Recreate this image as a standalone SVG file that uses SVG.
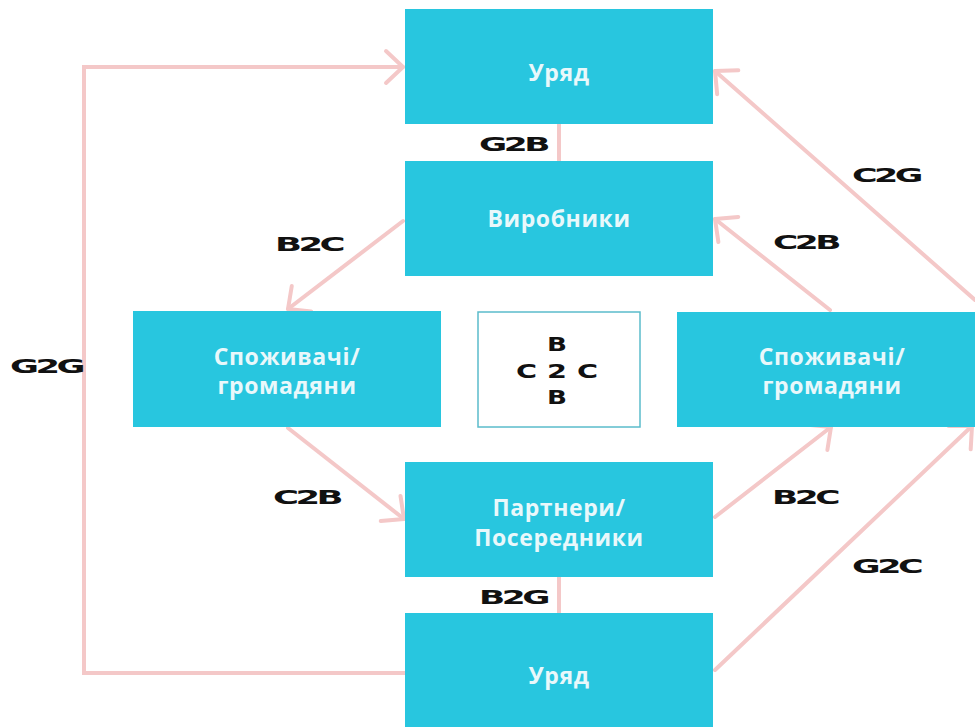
<svg xmlns="http://www.w3.org/2000/svg" width="975" height="727" viewBox="0 0 975 727">
  <defs>
    <marker id="chev" viewBox="-20 -20 24 40" markerWidth="24" markerHeight="40" refX="0" refY="0" orient="auto" markerUnits="userSpaceOnUse">
      <path d="M-17,-16 L0,0 L-17,16" fill="none" stroke="#f4c8c8" stroke-width="4" stroke-linecap="round" stroke-linejoin="round"/>
    </marker>
    <style>
      .box { fill: #28c6df; }
      .name { font-family: "Open Sans", "Noto Sans", sans-serif; font-weight: 700; font-size: 23px; fill: #e9f8fb; text-anchor: middle; letter-spacing: 0.6px; }
      .conn { fill: none; stroke: #f4c8c8; stroke-width: 4; stroke-linecap: round; stroke-linejoin: miter; }
      .tag { font-family: "DejaVu Sans", sans-serif; font-weight: 700; font-size: 20px; fill: #111111; letter-spacing: -2px; }
      .mid { font-family: "DejaVu Sans", sans-serif; font-weight: 700; font-size: 19px; fill: #111111; text-anchor: middle; }
    </style>
  </defs>

  <rect width="975" height="727" fill="#ffffff"/>

  <!-- connectors -->
  <g id="connectors">
    <polyline class="conn" points="405,673 84,673 84,67 403,67" marker-end="url(#chev)"/>
    <line class="conn" x1="559" y1="124" x2="559" y2="161"/>
    <line class="conn" x1="559" y1="577" x2="559" y2="613"/>
    <line class="conn" x1="403" y1="221" x2="288" y2="309" marker-end="url(#chev)"/>
    <line class="conn" x1="288" y1="428" x2="404" y2="519" marker-end="url(#chev)"/>
    <line class="conn" x1="715" y1="517" x2="831" y2="427" marker-end="url(#chev)"/>
    <line class="conn" x1="830" y1="310" x2="715" y2="219" marker-end="url(#chev)"/>
    <line class="conn" x1="975" y1="300" x2="715" y2="71" marker-end="url(#chev)"/>
    <line class="conn" x1="715" y1="670" x2="972" y2="426" marker-end="url(#chev)"/>

    <text class="tag" x="479" y="151" textLength="68" lengthAdjust="spacingAndGlyphs">G2B</text>
    <text class="tag" x="479" y="604" textLength="68" lengthAdjust="spacingAndGlyphs">B2G</text>
    <text class="tag" x="10" y="373" textLength="72" lengthAdjust="spacingAndGlyphs">G2G</text>
    <text class="tag" x="275" y="251" textLength="67" lengthAdjust="spacingAndGlyphs">B2C</text>
    <text class="tag" x="273" y="504" textLength="67" lengthAdjust="spacingAndGlyphs">C2B</text>
    <text class="tag" x="772" y="504" textLength="65" lengthAdjust="spacingAndGlyphs">B2C</text>
    <text class="tag" x="773" y="249" textLength="65" lengthAdjust="spacingAndGlyphs">C2B</text>
    <text class="tag" x="852" y="182" textLength="68" lengthAdjust="spacingAndGlyphs">C2G</text>
    <text class="tag" x="852" y="573" textLength="68" lengthAdjust="spacingAndGlyphs">G2C</text>
  </g>

  <!-- nodes -->
  <g id="gov-top">
    <rect class="box" x="405" y="9" width="308" height="115"/>
    <text class="name" x="559" y="81">Уряд</text>
  </g>
  <g id="producers">
    <rect class="box" x="405" y="161" width="308" height="115"/>
    <text class="name" x="559" y="227">Виробники</text>
  </g>
  <g id="consumers-left">
    <rect class="box" x="133" y="311" width="308" height="116"/>
    <text class="name" x="287" y="365">Споживачі/</text>
    <text class="name" x="287" y="394">громадяни</text>
  </g>
  <g id="center">
    <rect x="478" y="312" width="162" height="115" fill="#ffffff" stroke="#5bbccb" stroke-width="1.5"/>
    <text class="mid" x="557" y="351" textLength="20" lengthAdjust="spacingAndGlyphs">B</text>
    <text class="mid" x="557" y="378" textLength="82" lengthAdjust="spacingAndGlyphs">C 2 C</text>
    <text class="mid" x="557" y="404" textLength="20" lengthAdjust="spacingAndGlyphs">B</text>
  </g>
  <g id="consumers-right">
    <rect class="box" x="677" y="312" width="310" height="115"/>
    <text class="name" x="832" y="365">Споживачі/</text>
    <text class="name" x="832" y="394">громадяни</text>
  </g>
  <g id="partners">
    <rect class="box" x="405" y="462" width="308" height="115"/>
    <text class="name" x="559" y="516">Партнери/</text>
    <text class="name" x="559" y="546">Посередники</text>
  </g>
  <g id="gov-bottom">
    <rect class="box" x="405" y="613" width="308" height="114"/>
    <text class="name" x="559" y="684">Уряд</text>
  </g>
</svg>
